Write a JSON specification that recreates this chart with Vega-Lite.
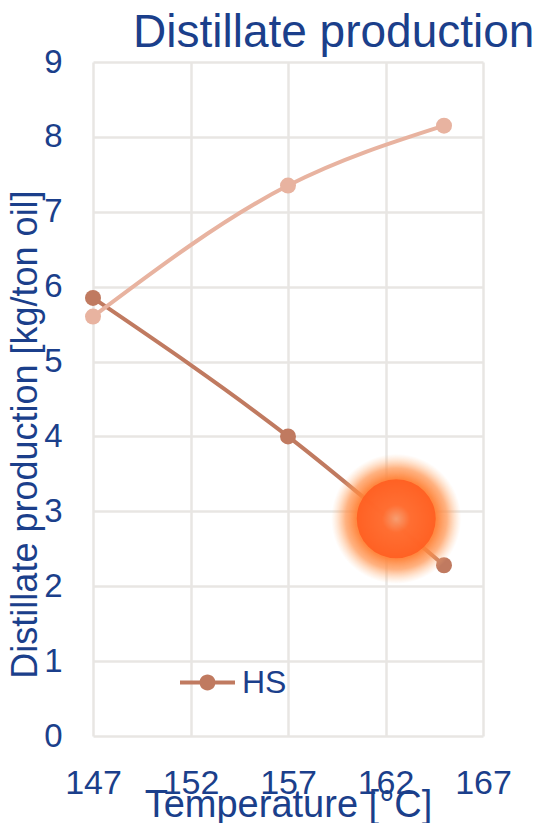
{
  "$schema": "https://vega.github.io/schema/vega-lite/v6.json",
  "width": 390,
  "height": 674,
  "autosize": {"type": "none"},
  "padding": {"left": 93, "top": 62, "right": 61, "bottom": 87},
  "background": "white",
  "config": {
    "font": "Liberation Sans",
    "view": {"stroke": null},
    "axis": {
      "labelColor": "#1B3F8B",
      "titleColor": "#1B3F8B",
      "titleFontWeight": "normal",
      "domain": false,
      "ticks": false,
      "gridColor": "#E8E6E3",
      "gridWidth": 2.5,
      "labelFlush": false,
      "labelOverlap": false
    }
  },
  "title": {
    "text": "Distillate production",
    "anchor": "start",
    "frame": "group",
    "dx": 40,
    "offset": 0,
    "dy": 47,
    "baseline": "alphabetic",
    "fontSize": 46,
    "fontWeight": "normal",
    "color": "#1B3F8B"
  },
  "datasets": {
    "series": [
      {"T": 147, "v": 5.85, "s": "HS"},
      {"T": 157, "v": 4.0, "s": "HS"},
      {"T": 165, "v": 2.28, "s": "HS"},
      {"T": 147, "v": 5.6, "s": "LS"},
      {"T": 157, "v": 7.35, "s": "LS"},
      {"T": 165, "v": 8.15, "s": "LS"}
    ],
    "marker": [
      {"T": 162.55, "v": 2.9}
    ]
  },
  "encoding": {
    "x": {
      "field": "T",
      "type": "quantitative",
      "scale": {"domain": [147, 167], "nice": false, "zero": false},
      "axis": {
        "values": [147, 152, 157, 162, 167],
        "labelFontSize": 34,
        "labelPadding": 30,
        "title": "Temperature [°C]",
        "titleFontSize": 38,
        "titleBaseline": "alphabetic",
        "titleX": 195,
        "titleY": 80,
        "titleAlign": "center"
      }
    },
    "y": {
      "field": "v",
      "type": "quantitative",
      "scale": {"domain": [0, 9], "nice": false},
      "axis": {
        "values": [0, 1, 2, 3, 4, 5, 6, 7, 8, 9],
        "labelFontSize": 33,
        "labelPadding": 31,
        "title": "Distillate production [kg/ton oil]",
        "titleFontSize": 36,
        "titleAngle": -90,
        "titleBaseline": "alphabetic",
        "titleAlign": "center",
        "titleX": -57,
        "titleY": 372
      }
    }
  },
  "layer": [
    {
      "data": {"name": "series"},
      "mark": {"type": "line", "interpolate": "monotone", "strokeWidth": 4},
      "encoding": {
        "color": {
          "field": "s",
          "type": "nominal",
          "scale": {"domain": ["HS", "LS"], "range": ["#C07A60", "#E8B3A0"]},
          "legend": {
            "values": ["HS"],
            "title": null,
            "orient": "none",
            "legendX": 87,
            "legendY": 593,
            "padding": 0,
            "symbolType": "M-1,-0.07 L1,-0.07 L1,0.07 L-1,0.07 Z M0.29,0 A0.29,0.29 0 1,1 -0.29,0 A0.29,0.29 0 1,1 0.29,0 Z",
            "symbolSize": 3025,
            "labelFontSize": 32,
            "labelColor": "#1B3F8B",
            "labelOffset": 7,
            "encode": {
              "symbols": {
                "update": {
                  "fill": {"value": "#C07A60"},
                  "stroke": {"value": "#C07A60"},
                  "strokeWidth": {"value": 0},
                  "opacity": {"value": 1}
                }
              }
            }
          }
        }
      }
    },
    {
      "data": {"name": "series"},
      "mark": {"type": "point", "filled": true, "opacity": 1, "size": 256, "shape": "circle"},
      "encoding": {
        "color": {"field": "s", "type": "nominal"}
      }
    },
    {
      "data": {"name": "marker"},
      "mark": {
        "type": "point",
        "shape": "circle",
        "filled": true,
        "size": 16900,
        "opacity": 1,
        "fill": {
          "gradient": "radial",
          "stops": [
            {"offset": 0, "color": "rgba(255,125,50,0.95)"},
            {"offset": 0.62, "color": "rgba(255,130,55,0.95)"},
            {"offset": 0.78, "color": "rgba(255,145,75,0.7)"},
            {"offset": 0.9, "color": "rgba(255,165,100,0.3)"},
            {"offset": 1, "color": "rgba(255,185,130,0)"}
          ]
        }
      }
    },
    {
      "data": {"name": "marker"},
      "mark": {
        "type": "point",
        "shape": "circle",
        "filled": true,
        "size": 6241,
        "opacity": 0.85,
        "fill": {
          "gradient": "radial",
          "stops": [
            {"offset": 0, "color": "#F5A27A"},
            {"offset": 0.35, "color": "#FF6A30"},
            {"offset": 1, "color": "#FF5A1E"}
          ]
        }
      }
    }
  ]
}
